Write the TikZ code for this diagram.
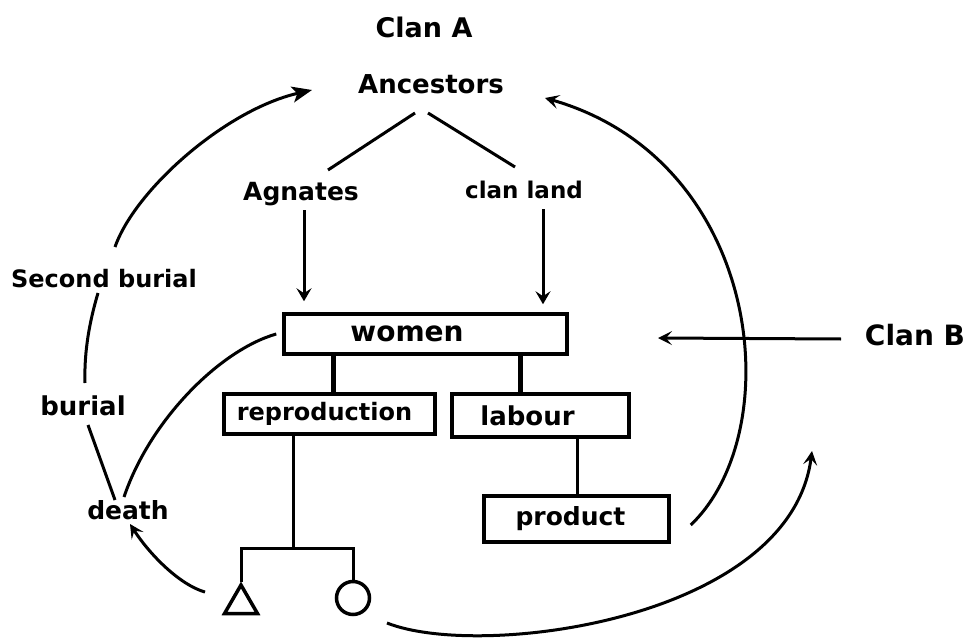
\documentclass[tikz,border=0pt]{standalone}
\usepackage{fontspec}
\setmainfont{DejaVu Sans}
\usetikzlibrary{calc,arrows.meta,shapes.geometric}
\begin{document}
\begin{tikzpicture}[x=1pt,y=-1pt,
  lbl/.style={anchor=base, inner sep=0pt, font=\bfseries\fontsize{#1}{#1}\selectfont},
  boxnode/.style={draw, line width=3.5pt, inner sep=0pt},
  conn/.style={line width=3pt},
  arcline/.style={line width=3pt},
  vtip/.style={-{Stealth[length=13pt,width=15pt,inset=5pt]}},
  opentip/.style={-{Stealth[length=14pt,width=14pt,inset=6pt]}},
  filledtip/.style={-{Stealth[length=20pt,width=16pt,inset=5pt]}},
]
\useasboundingbox (0,0) rectangle (970,642);

% labels
\node[lbl=27] (clana) at (424,38) {Clan A};
\node[lbl=26] (anc) at (431,93) {Ancestors};
\node[lbl=25] (agn) at (301,200) {Agnates};
\node[lbl=23] (cland) at (524,198) {clan land};
\node[lbl=28] (clanb) at (915,345) {Clan B};
\node[lbl=24] (sb) at (104,287) {Second burial};
\node[lbl=26] (bur) at (83,415) {burial};
\node[lbl=25] (death) at (128,519) {death};

% boxes
\node[boxnode, minimum width=283pt, minimum height=40pt, font=\bfseries\fontsize{28}{30}\selectfont] (women) at (425.5,334) {\hspace*{-37pt}women};
\node[boxnode, minimum width=211pt, minimum height=40pt, font=\bfseries\fontsize{24}{26}\selectfont] (repro) at (329.5,414) {\hspace*{-10pt}reproduction};
\node[boxnode, minimum width=177pt, minimum height=43pt, font=\bfseries\fontsize{26}{28}\selectfont] (labour) at (540.5,415.5) {\hspace*{-26pt}labour};
\node[boxnode, minimum width=185pt, minimum height=46pt, font=\bfseries\fontsize{25}{27}\selectfont] (product) at (576.5,519) {\hspace*{-12pt}product};

% kin symbols
\node[draw, line width=3.5pt, regular polygon, regular polygon sides=3, minimum size=38pt, inner sep=0pt] (tri) at (241,604) {};
\node[draw, line width=3.5pt, circle, minimum size=33pt, inner sep=0pt] (circ) at (353,598) {};

\coordinate (kbar) at (293,548);
\coordinate (cbtip) at (658,338);
\coordinate (btip) at (812,451);

% tree lines
\draw[conn] ($(anc.base)+(-16,20)$) -- ($(agn.base)+(27,-30)$);
\draw[conn] ($(anc.base)+(-3,20)$) -- ($(cland.base)+(-9,-31)$);
\draw[conn, vtip] ($(agn.base)+(3,10)$) -- ($(women.north -| agn.base)+(3,-11)$);
\draw[conn, vtip] ($(cland.base)+(19,11)$) -- ($(women.north -| cland.base)+(19,-8)$);

\draw[line width=5pt] ($(women.south)+(-92.5,0)$) -- ($(women.south |- repro.north)+(-92.5,0)$);
\draw[line width=5pt] ($(women.south)+(94.5,0)$) -- ($(women.south |- labour.north)+(94.5,0)$);
\draw[conn] ($(labour.south)+(36.5,0)$) -- ($(labour.south |- product.north)+(36.5,0)$);
\draw[conn] (repro.south -| kbar) -- (kbar);
\draw[conn] (tri.north) -- (tri.north |- kbar) -- (circ.north |- kbar) -- (circ.north);

% Clan B
\draw[conn, opentip] ($(clanb.base)+(-74,-6)$) -- (cbtip);

% cycle arcs
\draw[arcline, opentip] ($(product.east)+(20,6)$) .. controls (790,430) and (762,160) .. ($(anc.base)+(114,5)$);
\draw[arcline, opentip] ($(circ.center)+(34,25)$) .. controls (480,660) and (790,620) .. (btip);
\draw[arcline, filledtip] ($(sb.base)+(11,-40)$) .. controls (135,190) and (225,110) .. ($(anc.base)+(-119,-3)$);
\draw[arcline] ($(sb.base)+(-6,6)$) .. controls (90,320) and (84,350) .. ($(bur.base)+(2,-32)$);
\draw[arcline] ($(bur.base)+(5,10)$) -- ($(death.base)+(-13,-19)$);
\draw[arcline] ($(women.west)+(-6,0)$) .. controls (220,350) and (150,420) .. ($(death.base)+(-4,-22)$);
\draw[arcline, opentip] ($(tri.center)+(-36,-12)$) .. controls (180,585) and (150,555) .. ($(death.base)+(2,5)$);
\end{tikzpicture}
\end{document}
